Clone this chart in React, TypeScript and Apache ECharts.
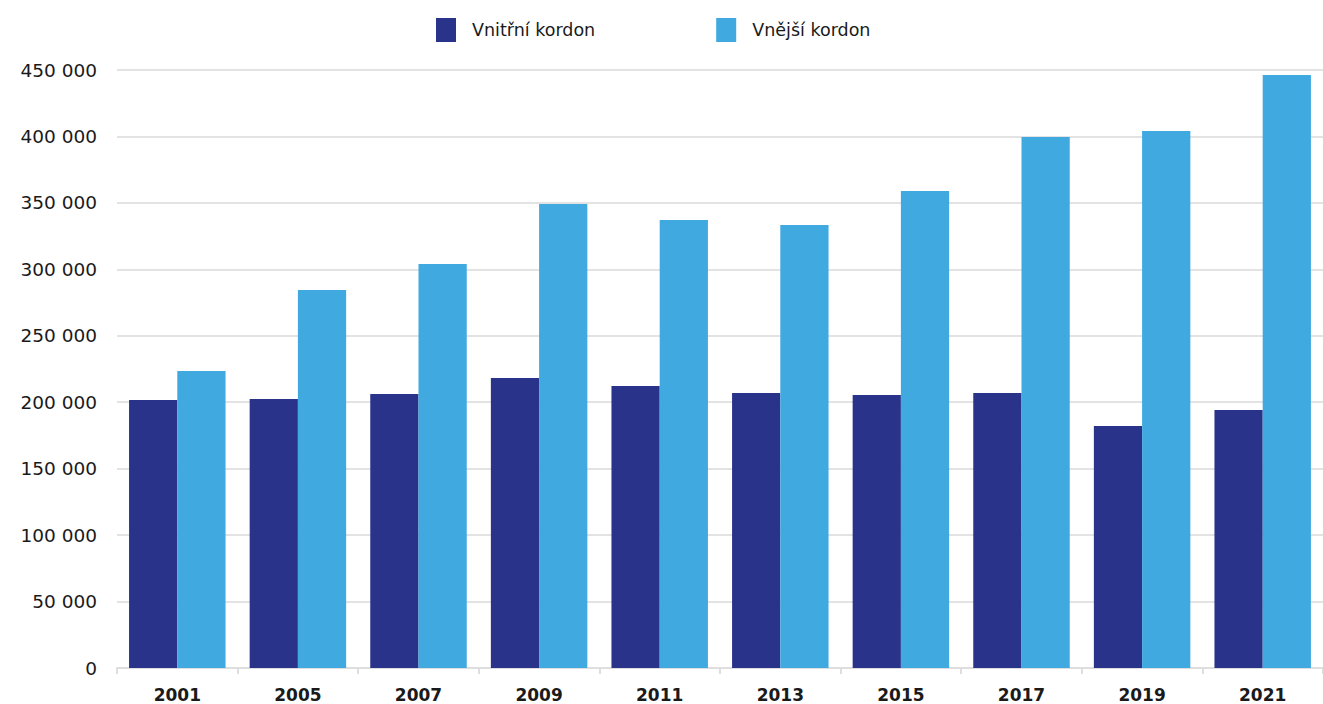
import React, { useEffect, useRef } from "react";
import * as echarts from "echarts";

const years = ["2001", "2005", "2007", "2009", "2011", "2013", "2015", "2017", "2019", "2021"];
const innerCordon = [201700, 202400, 206200, 218200, 212200, 206900, 205400, 206900, 182100, 194100];
const outerCordon = [223500, 284400, 304000, 349200, 337100, 333400, 358900, 399600, 404100, 446200];
const seriesNames = ["Vnitřní kordon", "Vnější kordon"];
const yTicks = { min: 0, max: 450000, interval: 50000 };

const fmt = (v: number) => {
  const s = String(Math.round(v));
  return s.replace(/\B(?=(\d{3})+(?!\d))/g, " ");
};

export default function App() {
  const ref = useRef<HTMLDivElement>(null);
  useEffect(() => {
    if (!ref.current) return;
    const chart = echarts.init(ref.current, undefined, { renderer: "svg" });
    chart.setOption({
      animation: false,
      backgroundColor: "#ffffff",
      legend: {
        left: 436,
        top: 18,
        padding: 0,
        itemWidth: 20,
        itemHeight: 24,
        itemGap: 121,
        icon: "rect",
        textStyle: {
          fontFamily: "DejaVu Sans",
          fontSize: 17.5,
          color: "#1a1a1a",
          padding: [0, 0, 0, 11],
        },
        data: seriesNames,
      },
      grid: { left: 117, right: -4, top: 70, bottom: 36, containLabel: false },
      xAxis: {
        type: "category",
        data: years,
        axisLine: { lineStyle: { color: "#dedede", width: 2 } },
        axisTick: { show: true, length: 6, lineStyle: { color: "#dedede", width: 2 } },
        axisLabel: {
          margin: 18,
          fontFamily: "DejaVu Sans",
          fontWeight: "bold",
          fontSize: 17,
          color: "#1a1a1a",
        },
      },
      yAxis: {
        type: "value",
        min: yTicks.min,
        max: yTicks.max,
        interval: yTicks.interval,
        axisLine: { show: false },
        axisTick: { show: false },
        splitLine: { lineStyle: { color: "#e3e3e3", width: 2 } },
        axisLabel: {
          margin: 20,
          fontFamily: "DejaVu Sans",
          fontSize: 18.5,
          color: "#1a1a1a",
          formatter: (v: number) => fmt(v),
        },
      },
      series: [
        {
          name: seriesNames[0],
          type: "bar",
          data: innerCordon,
          barGap: "0%",
          barCategoryGap: "20%",
          itemStyle: { color: "#29338a" },
        },
        {
          name: seriesNames[1],
          type: "bar",
          data: outerCordon,
          barGap: "0%",
          barCategoryGap: "20%",
          itemStyle: { color: "#3fa9e0" },
        },
      ],
    });
    return () => chart.dispose();
  }, []);
  return (
    <div
      ref={ref}
      style={{ position: "absolute", left: 0, top: 0, width: 1323, height: 704 }}
    />
  );
}
